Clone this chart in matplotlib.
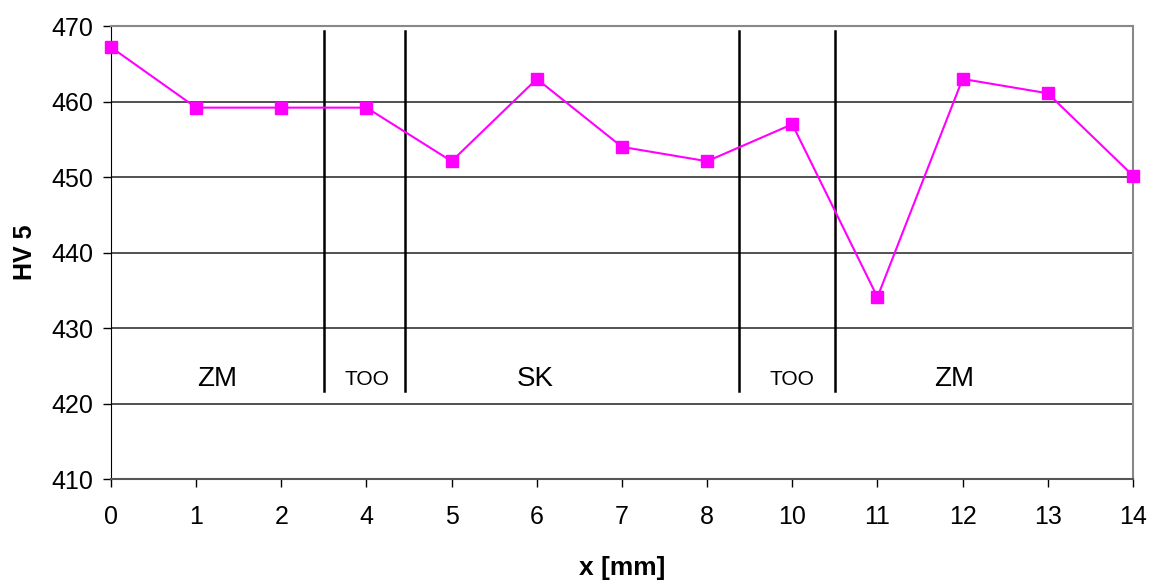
import numpy as np
from matplotlib import pyplot as plt

plt.rcParams['font.family'] = ['Liberation Sans', 'DejaVu Sans']

# Dados da medição de dureza
x_labels = ["0", "1", "2", "4", "5", "6", "7", "8", "10", "11", "12", "13", "14"]
hv5 = [467.2, 459.2, 459.2, 459.2, 452.1, 463.0, 454.0, 452.1, 457.0, 434.1, 463.0, 461.1, 450.2]

# Limites das zonas (posição no eixo de categorias) e rótulos
fronteiras = [2.5, 3.45, 7.37, 8.5]
zonas = ["ZM", "TOO", "SK", "TOO", "ZM"]
zonas_pos = [1.25, 3.0, 4.98, 8.0, 9.9]
zonas_tam = [20, 15, 20, 15, 20]

pos = np.arange(len(x_labels))

fig = plt.figure(figsize=(11.49, 5.8), dpi=100)
ax = fig.add_axes([0.0966, 0.174, 0.8894, 0.781])

for v in [420, 430, 440, 450, 460, 470]:
    ax.axhline(v, color="#333333", lw=1.2, zorder=1)

for f in fronteiras:
    ax.plot([f, f], [421.7, 469.4], color="black", lw=1.8, zorder=2)

for nome, xp, tam in zip(zonas, zonas_pos, zonas_tam):
    ax.text(xp, 423.2, nome, ha="center", va="center", fontsize=tam)

ax.plot(pos, hv5, color="#FF00FF", lw=1.5, marker="s", markersize=8,
        clip_on=False, zorder=3)

ax.set_xlim(0, 12)
ax.set_ylim(410, 470)
ax.set_xticks(pos)
ax.set_xticklabels(x_labels)
ax.set_yticks(np.arange(410, 471, 10))
ax.tick_params(labelsize=18, length=6, width=1)
ax.tick_params(axis="x", pad=13)
ax.tick_params(axis="y", pad=7)

for s in ["top", "right"]:
    ax.spines[s].set_color("#888888")
    ax.spines[s].set_linewidth(1.5)
ax.spines["bottom"].set_color("#555555")
ax.spines["bottom"].set_linewidth(1.5)
ax.spines["left"].set_color("black")

ax.set_ylabel("HV 5", fontsize=18, fontweight="bold", labelpad=10)
ax.set_xlabel("x [mm]", fontsize=19, fontweight="bold", labelpad=19)

fig.savefig("out.png")
